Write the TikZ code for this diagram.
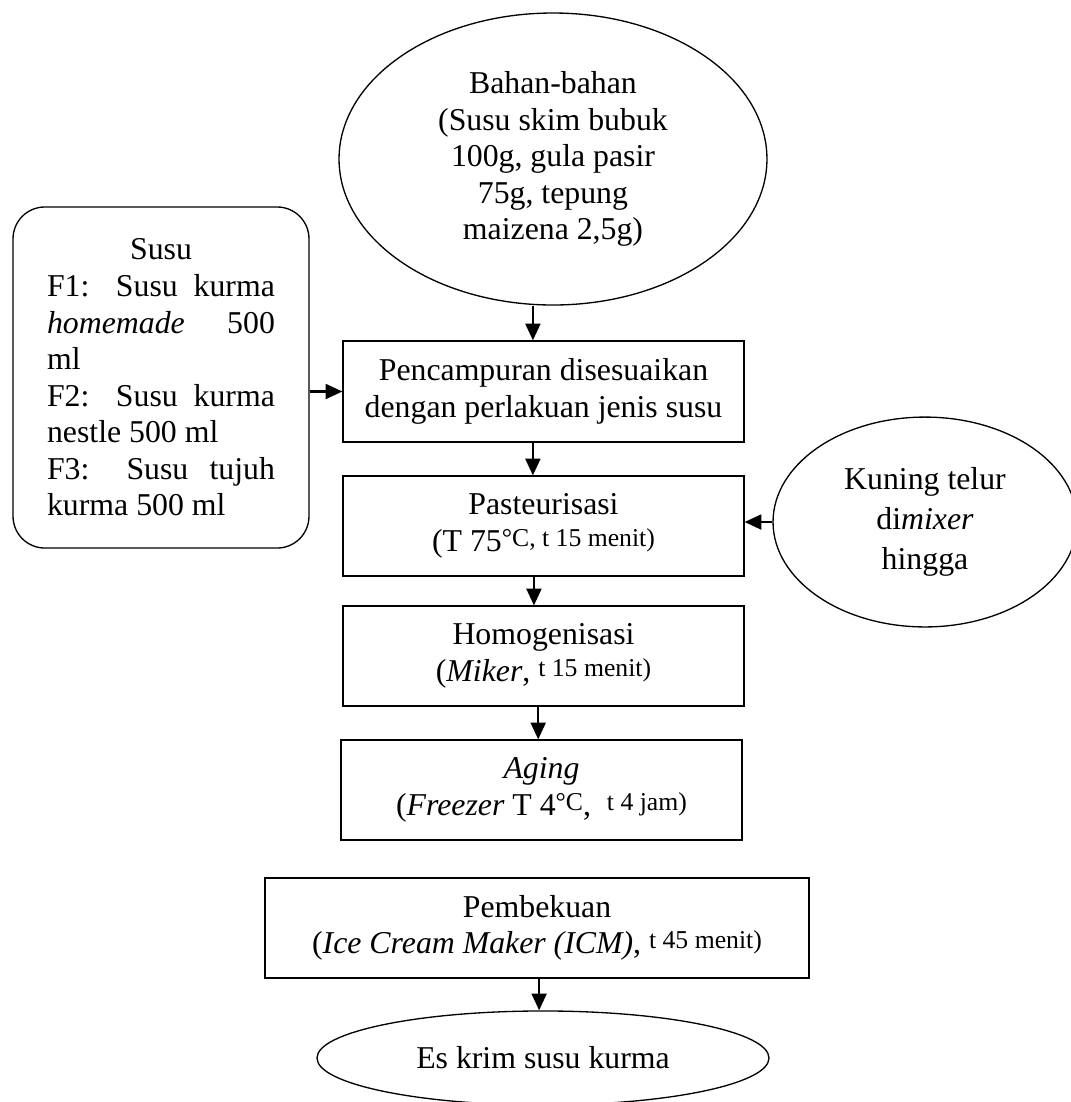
\documentclass[tikz,border=0pt]{standalone}
\usepackage{fontspec}
\setmainfont{Liberation Serif}
\usetikzlibrary{shapes.geometric,arrows.meta}

\newcommand{\kecil}[1]{\raisebox{2pt}{\fontsize{9.7}{11}\selectfont #1}}

\tikzset{
proses/.style={draw,line width=0.5pt,minimum width=151.3pt,minimum height=37.7pt,inner sep=0pt,align=center},
oval/.style={draw,ellipse,line width=0.5pt,inner sep=0pt,align=center},
panah/.style={-{Triangle[length=6.3pt,width=5.6pt]},line width=0.9pt}
}

\begin{document}
\begin{tikzpicture}[x=0.3774pt,y=-0.3774pt,font=\fontsize{12}{13.8}\selectfont]

\useasboundingbox (0,0) rectangle (1071,1102);

% Bahan-bahan
\node[oval,minimum width=161.5pt,minimum height=110.2pt] (bahan) at (553,159)
{Bahan-bahan\\(Susu skim bubuk\\100g, gula pasir\\75g, tepung\\maizena 2,5g)};

% Susu
\node[draw,line width=0.5pt,rounded corners=12pt,minimum width=111.7pt,minimum height=128.7pt,inner sep=0pt,align=left] (susu) at (161,377.5)
{\makebox[86pt]{Susu}\\
\makebox[86pt][s]{F1: Susu kurma}\\
\makebox[86pt][s]{\textit{homemade} 500}\\
ml\\
\makebox[86pt][s]{F2: Susu kurma}\\
nestle 500 ml\\
\makebox[86pt][s]{F3: Susu tujuh}\\
kurma 500 ml};

% Proses
\node[proses,minimum height=38.1pt] (campur) at (543.5,391.5)
{Pencampuran disesuaikan\\dengan perlakuan jenis susu};

\node[proses] (pasteur) at (543.5,526)
{Pasteurisasi\\(T 75\kecil{°C, t 15 menit)}};

\node[proses] (homogen) at (543.5,656)
{Homogenisasi\\(\textit{Miker}, \kecil{t 15 menit)}};

\node[proses] (aging) at (541.5,790)
{\textit{Aging}\\(\textit{Freezer} T 4\kecil{°C},\ \ \kecil{t 4 jam)}};

\node[proses,minimum width=205.3pt] (beku) at (537,928)
{Pembekuan\\(\textit{Ice Cream Maker (ICM)}, \kecil{t 45 menit)}};

% Kuning telur
\node[oval,minimum width=114.7pt,minimum height=79.2pt] (kuning) at (925,522)
{Kuning telur\\[1.3pt]di\textit{mixer}\\[1.3pt]hingga};

% Hasil
\node[oval,minimum width=170.6pt,minimum height=35.5pt] (eskrim) at (543,1058)
{Es krim susu kurma};

% Panah
\draw[panah] ([xshift=-4pt]campur.north |- bahan.south) -- ([xshift=-4pt]campur.north);
\draw[panah] ([xshift=-4pt]campur.south) -- ([xshift=-4pt]pasteur.north);
\draw[panah] ([xshift=-3.6pt]pasteur.south) -- ([xshift=-3.6pt]homogen.north);
\draw[panah] ([xshift=-2pt]homogen.south) -- ([xshift=-2pt]homogen.south |- aging.north);
\draw[panah] ([xshift=0.8pt]beku.south) -- ([xshift=0.8pt]beku.south |- eskrim.north);
\draw[panah] (susu.east |- campur.west) -- (campur.west);
\draw[panah] (kuning.west) -- (kuning.west -| pasteur.east);

\end{tikzpicture}
\end{document}
